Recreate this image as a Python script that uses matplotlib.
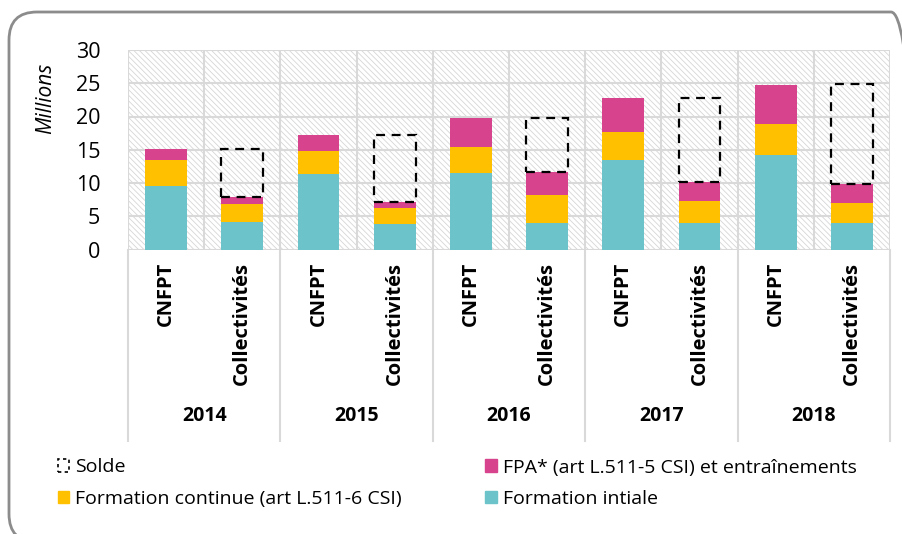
import numpy as np
import matplotlib
matplotlib.use("Agg")
import matplotlib.pyplot as plt
from matplotlib.patches import Rectangle, FancyBboxPatch, Patch
from matplotlib.transforms import blended_transform_factory

plt.rcParams['font.family'] = ['Open Sans', 'DejaVu Sans']

# Données (millions)
years = ["2014", "2015", "2016", "2017", "2018"]
groups = ["CNFPT", "Collectivités"]
initiale = [9.6, 4.15, 11.3, 3.85, 11.5, 3.95, 13.4, 4.0, 14.2, 4.0]
continue_ = [3.8, 2.75, 3.5, 2.45, 3.85, 4.25, 4.25, 3.3, 4.7, 3.0]
fpa = [1.7, 1.0, 2.4, 0.9, 4.45, 3.5, 5.15, 2.8, 5.9, 2.9]
solde = [7.2, 10.0, 8.1, 12.7, 15.0]

c_init = "#6CC4CA"
c_cont = "#FFC000"
c_fpa = "#D8438E"
c_grid = "#D9D9D9"

fig = plt.figure(figsize=(9.03, 5.34), dpi=100)
ax = fig.add_axes([128 / 903, 1 - 249.5 / 534, 762 / 903, 199.5 / 534])

# cadre arrondi (déborde à droite et en bas)
fig.patches.append(FancyBboxPatch((0.09, -0.08), 9.1, 5.3,
                                  boxstyle="round,pad=0,rounding_size=0.28",
                                  transform=fig.dpi_scale_trans, fc="none",
                                  ec="#8C8C8C", lw=2))

x = np.arange(len(initiale))
ax.set_xlim(-0.5, len(x) - 0.5)
ax.set_ylim(0, 30)

# fond hachuré
plt.rcParams['hatch.linewidth'] = 0.6
ax.add_patch(Rectangle((0, 0), 1, 1, transform=ax.transAxes, fc="white",
                       ec="#D6D6D6", hatch="\\\\\\\\\\\\", lw=0, zorder=0))

for y in range(0, 31, 5):
    ax.axhline(y, color=c_grid, lw=1.5, zorder=1)
for xv in np.arange(-0.5, len(x), 1.0):
    ax.axvline(xv, color=c_grid, lw=1.5, zorder=1)

w = 0.55
b1 = np.array(initiale)
b2 = b1 + np.array(continue_)
b3 = b2 + np.array(fpa)
ax.bar(x, initiale, w, color=c_init, zorder=2)
ax.bar(x, continue_, w, bottom=b1, color=c_cont, zorder=2)
ax.bar(x, fpa, w, bottom=b2, color=c_fpa, zorder=2)
coll = x[1::2]
ax.bar(coll, solde, w, bottom=b3[1::2], fill=False, edgecolor="black",
       lw=1.6, linestyle=(0, (4, 3)), zorder=3)

for s in ax.spines.values():
    s.set_visible(False)
ax.tick_params(length=0)
ax.set_yticks(range(0, 31, 5))
ax.tick_params(axis="y", labelsize=15.5, pad=20)
ax.set_xticks(x)
ax.set_xticklabels(groups * len(years), rotation=90, fontweight="bold",
                   fontsize=14.5, va="top")
ax.tick_params(axis="x", pad=9)

# séparateurs et années
tr = blended_transform_factory(ax.transData, ax.transAxes)
for xv in np.arange(-0.5, len(x), 2.0):
    ax.plot([xv, xv], [0, -0.96], transform=tr, color=c_grid, lw=1.5,
            clip_on=False)
for i, yr in enumerate(years):
    ax.text(2 * i + 0.5, -0.835, yr, transform=tr, ha="center", va="center",
            fontsize=14, fontweight="bold")

fig.text(46 / 903, 1 - 98 / 534, "Millions", rotation=90, style="italic",
         fontsize=15, ha="center", va="center")

handles = [Patch(fc="none", ec="black", ls=(0, (2, 2)), lw=1.2),
           Patch(color=c_cont), Patch(color=c_fpa), Patch(color=c_init)]
labels = ["Solde", "Formation continue (art L.511-6 CSI)",
          "FPA* (art L.511-5 CSI) et entraînements", "Formation intiale"]
fig.legend(handles, labels, ncol=2, loc="upper left",
           bbox_to_anchor=(40 / 903, 1 - 441 / 534), frameon=False,
           fontsize=14, handlelength=0.6, handleheight=0.6, handletextpad=0.3,
           columnspacing=4.3, labelspacing=0.68)

fig.savefig("out.png", dpi=100)
